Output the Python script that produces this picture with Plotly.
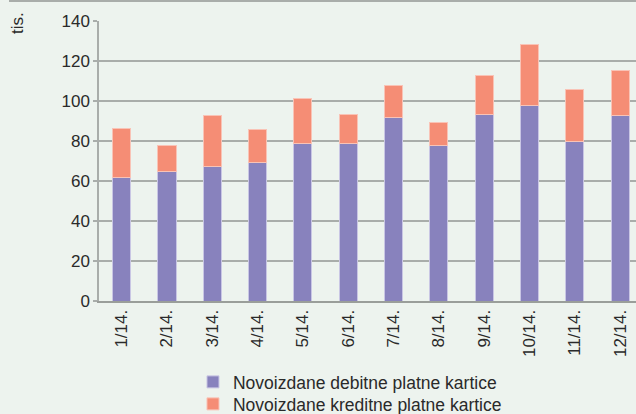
import plotly.graph_objects as go

months = ["1/14.", "2/14.", "3/14.", "4/14.", "5/14.", "6/14.",
          "7/14.", "8/14.", "9/14.", "10/14.", "11/14.", "12/14."]
debit = [61.6, 64.7, 67.2, 69.3, 78.7, 78.7, 91.8, 77.8, 93.2, 98.0, 79.8, 92.7]
credit = [24.6, 13.3, 25.6, 16.4, 22.8, 14.8, 15.9, 11.5, 19.5, 30.3, 26.2, 22.6]
y_ticks = [0, 20, 40, 60, 80, 100, 120, 140]

bg = "#edf3ee"
font_fam = "Liberation Sans, Arial, sans-serif"

fig = go.Figure()
fig.add_trace(go.Bar(x=months, y=debit, name="Novoizdane debitne platne kartice",
                     marker=dict(color="#8882bd", line=dict(color="#c9c6e4", width=1)),
                     width=0.4, legend="legend"))
fig.add_trace(go.Bar(x=months, y=credit, name="Novoizdane kreditne platne kartice",
                     marker=dict(color="#f58d75", line=dict(color="#f9c3b6", width=1)),
                     width=0.4, legend="legend2"))

leg_common = dict(orientation="v", xanchor="left", yanchor="middle",
                  bgcolor="rgba(0,0,0,0)", font=dict(size=17.5, color="#2a2a2a"),
                  itemwidth=30)

fig.update_layout(
    barmode="stack",
    width=636, height=414,
    paper_bgcolor=bg, plot_bgcolor=bg,
    margin=dict(l=99, r=0, t=21, b=113, autoexpand=False),
    font=dict(family=font_fam, size=17, color="#2a2a2a"),
    showlegend=True,
    legend=dict(x=0.175, y=(301 - 382) / 280, **leg_common),
    legend2=dict(x=0.175, y=(301 - 404) / 280, **leg_common),
    xaxis=dict(type="category", range=[-0.5, 11.35], tickangle=-90,
               showgrid=False, showline=True, linecolor="#9a9e9a", linewidth=2,
               ticks="", tickfont=dict(size=17), automargin=False),
    yaxis=dict(range=[0, 140], tickvals=y_ticks, showgrid=True,
               gridcolor="#a9adaa", gridwidth=1.5, zeroline=False,
               showline=True, linecolor="#a9adaa", linewidth=1.5,
               ticks="outside", ticklen=4, tickcolor="#a9adaa", tickwidth=1.5,
               tickfont=dict(size=17), automargin=False),
    annotations=[dict(text="tis.", textangle=-90, xref="paper", yref="paper",
                      x=(18 - 99) / 537, y=(301 - 10) / 280, xanchor="center",
                      yanchor="top", showarrow=False, font=dict(size=17, color="#2a2a2a"))],
    shapes=[dict(type="line", xref="paper", yref="paper",
                 x0=(9 - 99) / 537, x1=1.0, y0=(301 - 1) / 280, y1=(301 - 1) / 280,
                 line=dict(color="#a9adaa", width=2))],
)

fig.write_html("out.html", config={"displayModeBar": False},
               post_script="document.body.style.margin='0';document.body.style.overflow='hidden';")
